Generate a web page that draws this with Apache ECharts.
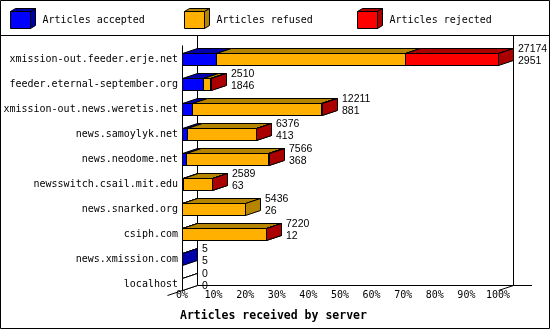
<!DOCTYPE html>
<html><head><meta charset="utf-8">
<script src="https://cdn.jsdelivr.net/npm/echarts@6/dist/echarts.min.js"></script>
<style>html,body{margin:0;padding:0;background:#fff}#c{width:550px;height:330px}</style>
</head><body><div id="c"></div>
<script>
// ---- data ----
const categories = ['xmission-out.feeder.erje.net','feeder.eternal-september.org','xmission-out.news.weretis.net','news.samoylyk.net','news.neodome.net','newsswitch.csail.mit.edu','news.snarked.org','csiph.com','news.xmission.com','localhost'];
const offered  = [27174, 2510, 12211, 6376, 7566, 2589, 5436, 7220, 5, 0];
const accepted = [2951, 1846, 881, 413, 368, 63, 26, 12, 5, 0];
const refused  = [16220, 530, 11100, 5913, 7050, 2506, 5410, 7190, 0, 0];
const rejected = [8003, 134, 40, 50, 40, 20, 0, 18, 0, 0];
const seriesNames = ['Articles accepted', 'Articles refused', 'Articles rejected'];
const tickLabels = ['0%','10%','20%','30%','40%','50%','60%','70%','80%','90%','100%'];
const axisTitle = 'Articles received by server';

// ---- styles ----
const fronts = ['#0000ff', '#ffb000', '#ff0000'];
const darks  = ['#0000aa', '#b58500', '#aa0000'];
const DX = 15, DY = 5;
const MONO = '"DejaVu Sans Mono", monospace';

const segs = [accepted, refused, rejected];
const maxVal = Math.max.apply(null, offered);
const cum = categories.map(() => 0);
const segData = segs.map(arr => arr.map((v, i) => {
  const s = cum[i]; cum[i] += v; return [i, s, s + v, 0];
}));
segData.forEach(d => d.forEach((r, i) => { r[3] = cum[i]; }));
const labelData = categories.map((c, i) => [i, cum[i], offered[i], accepted[i]]);

const px = v => Math.round(v) + 0.5;

function segRender(k) {
  return function (params, api) {
    const cat = api.value(0), s = api.value(1), e = api.value(2), tot = api.value(3);
    const zeroRow = tot === 0;
    if (e - s <= 0 && !(zeroRow && k === 0)) return null;
    const a = api.coord([s, cat]), b = api.coord([e, cat]);
    const band = api.size([0, 1])[1];
    const h = band * 0.48;
    const x0 = px(a[0]), x1 = px(b[0]);
    const yt = a[1] - h / 2, yb = a[1] + h / 2;
    const fill = zeroRow ? '#fff' : fronts[k];
    const dfill = zeroRow ? '#fff' : darks[k];
    const st = { stroke: '#000', lineWidth: 1 };
    return { type: 'group', children: [
      { type: 'rect', shape: { x: x0, y: yt, width: x1 - x0, height: yb - yt }, style: Object.assign({ fill: fill }, st) },
      { type: 'polygon', shape: { points: [[x0, yt], [x0 + DX, yt - DY], [x1 + DX, yt - DY], [x1, yt]] }, style: Object.assign({ fill: dfill }, st) },
      { type: 'polygon', shape: { points: [[x1, yt], [x1 + DX, yt - DY], [x1 + DX, yb - DY], [x1, yb]] }, style: Object.assign({ fill: dfill }, st) }
    ]};
  };
}

function frameRender(params, api) {
  const n = categories.length;
  const band = api.size([0, 1])[1];
  const h = band * 0.48;
  const x0 = px(api.coord([0, 0])[0]);
  const x1 = px(api.coord([maxVal, 0])[0]);
  const yTop = api.coord([0, 0])[1] - h / 2 - 8;
  const floorF = api.coord([0, n - 1])[1] + h / 2;
  const floorB = floorF - DY;
  const top = 35.5;
  const ls = { stroke: '#000', lineWidth: 1 };
  const L = (p1, p2) => ({ type: 'line', shape: { x1: p1[0], y1: p1[1], x2: p2[0], y2: p2[1] }, style: ls });
  return { type: 'group', children: [
    L([x0 + DX, top], [x0 + DX, floorB]),
    L([x0, yTop], [x0, floorF]),
    L([x0 + DX, floorB], [x1 + DX + 18.5, floorB]),
    L([x1 + DX, top], [x1 + DX, floorB]),
    L([x0 - DX, floorF + DY], [x0 + DX, floorB]),
    L([x1, floorF], [x1 + DX, floorB])
  ]};
}

function labelRender(params, api) {
  const cat = api.value(0), e = api.value(1);
  const p = api.coord([e, cat]);
  const x = px(p[0]) + DX + 4.5;
  const f = '10.5px "Liberation Sans", Arial, sans-serif';
  return { type: 'group', children: [
    { type: 'text', x: x, y: p[1] - 10, style: { text: String(api.value(2)), font: f, fill: '#000', align: 'left', verticalAlign: 'middle' } },
    { type: 'text', x: x, y: p[1] + 1.5, style: { text: String(api.value(3)), font: f, fill: '#000', align: 'left', verticalAlign: 'middle' } }
  ]};
}

// legend graphic
const legendX = [10.5, 184.5, 357.5];
const legendEls = [];
seriesNames.forEach((name, i) => {
  const fx = legendX[i];
  const st = { stroke: '#000', lineWidth: 1 };
  legendEls.push(
    { type: 'rect', shape: { x: fx, y: 11.5, width: 20, height: 17 }, style: Object.assign({ fill: fronts[i] }, st) },
    { type: 'polygon', shape: { points: [[fx, 11.5], [fx + 5, 8.5], [fx + 25, 8.5], [fx + 20, 11.5]] }, style: Object.assign({ fill: darks[i] }, st) },
    { type: 'polygon', shape: { points: [[fx + 20, 11.5], [fx + 25, 8.5], [fx + 25, 25.5], [fx + 20, 28.5]] }, style: Object.assign({ fill: darks[i] }, st) },
    { type: 'text', x: fx + 32, y: 20.5, style: { text: name, font: '10px ' + MONO, fill: '#000', verticalAlign: 'middle' } }
  );
});

const chart = echarts.init(document.getElementById('c'), null, { renderer: 'canvas' });
chart.setOption({
  animation: false,
  backgroundColor: '#fff',
  grid: { left: 182, width: 316, top: 47, height: 250, containLabel: false },
  xAxis: {
    type: 'value', min: 0, max: maxVal, interval: maxVal / 10, offset: -7,
    axisLine: { show: false }, axisTick: { show: false }, splitLine: { show: false },
    axisLabel: { margin: 5, verticalAlign: 'middle', color: '#000', fontFamily: MONO, fontSize: 10,
      formatter: (v) => tickLabels[Math.round(v / (maxVal / 10))] }
  },
  yAxis: {
    type: 'category', data: categories, inverse: true,
    axisLine: { show: false }, axisTick: { show: false }, splitLine: { show: false },
    axisLabel: { margin: 4, color: '#000', fontFamily: MONO, fontSize: 10 }
  },
  graphic: [
    { type: 'rect', shape: { x: 0.5, y: 0.5, width: 549, height: 328 }, style: { fill: 'none', stroke: '#000', lineWidth: 1 }, z: 100 },
    { type: 'line', shape: { x1: 0, y1: 35.5, x2: 550, y2: 35.5 }, style: { stroke: '#000', lineWidth: 1 }, z: 100 },
    { type: 'text', x: 180, y: 316, style: { text: axisTitle, font: 'bold 11.5px ' + MONO, fill: '#000', verticalAlign: 'middle' } }
  ].concat(legendEls),
  series: [
    { type: 'custom', name: 'frame', renderItem: frameRender, data: [[0]], encode: { x: 0 }, silent: true, z: 1 },
    { type: 'custom', name: seriesNames[0], renderItem: segRender(0), data: segData[0], encode: { x: [1, 2], y: 0 }, z: 2 },
    { type: 'custom', name: seriesNames[1], renderItem: segRender(1), data: segData[1], encode: { x: [1, 2], y: 0 }, z: 3 },
    { type: 'custom', name: seriesNames[2], renderItem: segRender(2), data: segData[2], encode: { x: [1, 2], y: 0 }, z: 4 },
    { type: 'custom', name: 'labels', renderItem: labelRender, data: labelData, encode: { x: 1, y: 0 }, z: 5 }
  ]
});
</script></body></html>
